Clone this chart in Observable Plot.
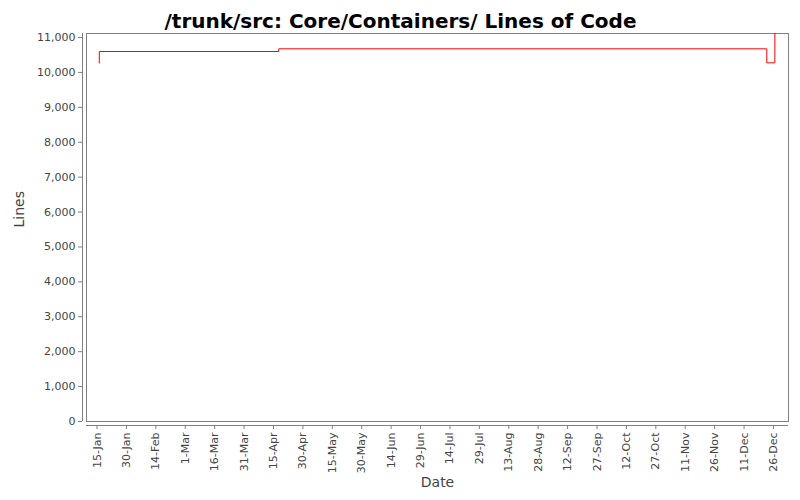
<!DOCTYPE html>
<html>
<head>
<meta charset="utf-8">
<script src="https://cdn.jsdelivr.net/npm/d3@7"></script>
<script src="https://cdn.jsdelivr.net/npm/@observablehq/plot@0.6"></script>
<style>
  html, body { margin: 0; padding: 0; background: #fff; }
  #chart svg { display: block; }
</style>
</head>
<body>
<div id="chart"></div>
<script>
const title = "/trunk/src: Core/Containers/ Lines of Code";
const xLabel = "Date";
const yLabel = "Lines";

// Data
const dates = [
  "2007-01-16T04:00Z",
  "2007-01-16T04:00Z",
  "2007-04-17T16:00Z",
  "2007-12-22T14:00Z",
  "2007-12-26T17:00Z"
];
const lines = [10264, 10599, 10676, 10275, 11400];

const xTickDates = [
  "2007-01-15", "2007-01-30", "2007-02-14", "2007-03-01", "2007-03-16", "2007-03-31",
  "2007-04-15", "2007-04-30", "2007-05-15", "2007-05-30", "2007-06-14", "2007-06-29",
  "2007-07-14", "2007-07-29", "2007-08-13", "2007-08-28", "2007-09-12", "2007-09-27",
  "2007-10-12", "2007-10-27", "2007-11-11", "2007-11-26", "2007-12-11", "2007-12-26"
];
const yTicks = [0, 1000, 2000, 3000, 4000, 5000, 6000, 7000, 8000, 9000, 10000, 11000];

const xDomain = [new Date("2007-01-09T15:20Z"), new Date("2008-01-02T16:00Z")];
const yDomain = [0, 11115];

const data = dates.map((d, i) => ({date: new Date(d), lines: lines[i]}));
const xTicks = xTickDates.map(d => new Date(d + "T00:00Z"));

const axisGray = "#808080";
const textGray = "#444444";

const chart = Plot.plot({
  width: 800,
  height: 500,
  marginLeft: 86,
  marginRight: 12,
  marginTop: 33,
  marginBottom: 79,
  style: {fontFamily: "DejaVu Sans", background: "#fff"},
  x: {type: "utc", domain: xDomain},
  y: {domain: yDomain},
  marks: [
    Plot.frame({stroke: axisGray}),
    Plot.ruleX([xDomain[0]], {stroke: axisGray, dx: -4}),
    Plot.ruleY([0], {stroke: axisGray, dy: 4}),
    Plot.axisY({
      ticks: yTicks, tickFormat: d3.format(","), dx: -4, tickSize: 4, tickPadding: 3,
      stroke: axisGray, fill: textGray, fontSize: 11, label: null
    }),
    Plot.axisX({
      ticks: xTicks, tickFormat: d3.utcFormat("%-d-%b"), tickRotate: -90, dy: 4, tickSize: 4,
      tickPadding: 3, stroke: axisGray, fill: textGray, fontSize: 11, label: null
    }),
    Plot.line(data, {x: "date", y: "lines", curve: "step-after", stroke: "#ff0000", strokeWidth: 1, clip: true}),
    Plot.text([yLabel], {frameAnchor: "left", dx: -67, rotate: -90, fontSize: 14, fill: textGray}),
    Plot.text([xLabel], {frameAnchor: "bottom", dy: 65, fontSize: 14, fill: textGray}),
    Plot.text([title], {frameAnchor: "top", dx: -37, dy: -20, fontSize: 20, fontWeight: "bold", fill: "#000"})
  ]
});
document.getElementById("chart").append(chart);
</script>
</body>
</html>
